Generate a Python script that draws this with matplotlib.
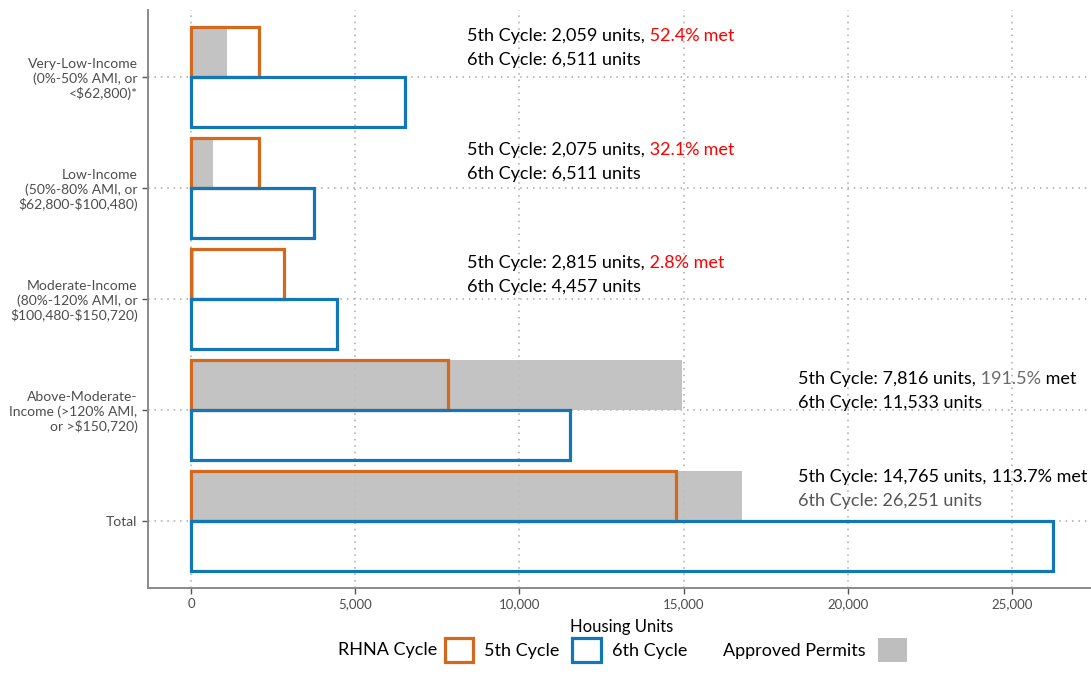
import matplotlib
matplotlib.use("Agg")
import matplotlib.pyplot as plt
from matplotlib.patches import Patch
from matplotlib.ticker import FuncFormatter
import numpy as np

plt.rcParams['font.family'] = ['Lato', 'DejaVu Sans']
plt.rcParams['text.parse_math'] = False

# data
categories = ["Very-Low-Income\n(0%-50% AMI, or\n<$62,800)*",
              "Low-Income\n(50%-80% AMI, or\n$62,800-$100,480)",
              "Moderate-Income\n(80%-120% AMI, or\n$100,480-$150,720)",
              "Above-Moderate-\nIncome (>120% AMI,\nor >$150,720)",
              "Total"]
cycle5 = [2059, 2075, 2815, 7816, 14765]
cycle6 = [6511, 3750, 4457, 11533, 26251]
permits = [1079, 666, 79, 14968, 16788]
pct_met = ["52.4%", "32.1%", "2.8%", "191.5%", "113.7%"]
cycle6_label = ["6,511", "6,511", "4,457", "11,533", "26,251"]  # as printed on the chart

# styling / layout
orange = '#D2691E'
blue = '#1276B8'
gray = '#BEBEBE'
pct_color = ['red', 'red', 'red', '#6A6A6A', 'black']
met_color = ['red', 'red', 'red', 'black', 'black']
line2_color = ['black', 'black', 'black', 'black', '#555555']
label_x = [8400, 8400, 8400, 18500, 18500]
label_dy = [-0.368, -0.338, -0.323, -0.278, -0.401]


def rich_text(ax, x, y, parts, **kw):
    t = ax.text(x, y, parts[0][0], color=parts[0][1], ha='left', va='center', **kw)
    for s, c in parts[1:]:
        t = ax.annotate(s, xy=(1, 0), xycoords=t, color=c, ha='left', va='bottom', **kw)
    return t


fig = plt.figure(figsize=(10.91, 6.91), dpi=100)
ax = fig.add_axes([148 / 1091, 1 - 588 / 691, (1096 - 148) / 1091, (588 - 10) / 691])

y = np.arange(len(categories))
h = 0.45
ax.barh(y - h / 2, permits, height=h, color=gray, alpha=0.92, zorder=2)
ax.barh(y - h / 2, cycle5, height=h, facecolor='none', edgecolor=orange, linewidth=2.3, zorder=3)
ax.barh(y + h / 2, cycle6, height=h, facecolor='none', edgecolor=blue, linewidth=2.3, zorder=4)

ax.set_xlim(-1312.6, 27563.6)
ax.set_ylim(4.6, -0.6)
ax.set_yticks(y, categories)
ax.set_xticks(np.arange(0, 25001, 5000))
ax.xaxis.set_major_formatter(FuncFormatter(lambda v, p: f"{int(v):,}"))

ax.grid(True, color='#A8A8A8', linestyle=(0, (1, 3.2)), linewidth=1.1)
ax.set_axisbelow(True)
for s in ['top', 'right']:
    ax.spines[s].set_visible(False)
for s in ['left', 'bottom']:
    ax.spines[s].set_color('#8A8A8A')
    ax.spines[s].set_linewidth(1.4)
ax.tick_params(axis='both', color='#555555', length=4, width=1, labelcolor='#4D4D4D')
ax.tick_params(axis='x', labelsize=9.5)
ax.tick_params(axis='y', labelsize=10)
ax.set_xlabel("Housing Units", fontsize=12, labelpad=6)

for i in range(len(categories)):
    yy = y[i] + label_dy[i]
    rich_text(ax, label_x[i], yy,
              [(f"5th Cycle: {cycle5[i]:,} units,", 'black'),
               (" " + pct_met[i], pct_color[i]),
               (" met", met_color[i])], fontsize=13, zorder=6)
    ax.text(label_x[i], yy + 0.215, f"6th Cycle: {cycle6_label[i]} units",
            color=line2_color[i], ha='left', va='center', fontsize=13, zorder=6)

# legends
leg_y = 1 - 650 / 691
fig.text(437 / 1091, leg_y, "RHNA Cycle", ha='right', va='center', fontsize=13)
fig.legend(handles=[Patch(facecolor='white', edgecolor=orange, linewidth=2.3, label='5th Cycle'),
                    Patch(facecolor='white', edgecolor=blue, linewidth=2.3, label='6th Cycle')],
           loc='center', bbox_to_anchor=(566 / 1091, leg_y), ncol=2, frameon=False,
           fontsize=13, handlelength=1.6, handleheight=1.6, handletextpad=0.6,
           columnspacing=0.7)
fig.legend(handles=[Patch(facecolor=gray, label='Approved Permits')], markerfirst=False,
           loc='center', bbox_to_anchor=(815 / 1091, leg_y), frameon=False,
           fontsize=13, handlelength=1.6, handleheight=1.6, handletextpad=0.7)

fig.savefig("out.png", dpi=100)
